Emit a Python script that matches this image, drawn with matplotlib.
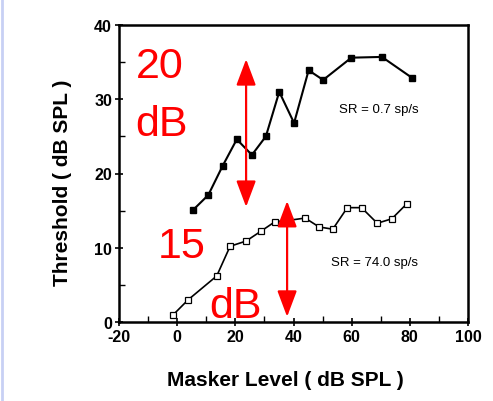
import matplotlib
matplotlib.use("Agg")
import matplotlib.pyplot as plt
from matplotlib.ticker import MultipleLocator
from matplotlib.lines import Line2D

plt.rcParams['font.family'] = ['Liberation Sans', 'DejaVu Sans']
plt.rcParams['axes.unicode_minus'] = False

# Data
low_sr_x = [5.5, 10.7, 15.6, 20.5, 25.7, 30.5, 35.1, 40.2, 45.2, 50.2, 59.9, 70.4, 80.7]
low_sr_y = [15.1, 17.1, 21.0, 24.6, 22.5, 25.0, 31.0, 26.8, 33.9, 32.6, 35.6, 35.7, 32.9]

high_sr_x = [-1.3, 3.8, 13.6, 18.2, 23.7, 28.7, 33.6, 38.6, 44.0, 48.8, 53.5, 58.5, 63.4, 68.8, 73.8, 78.9]
high_sr_y = [1.0, 3.0, 6.2, 10.2, 10.9, 12.2, 13.5, 13.7, 14.0, 12.8, 12.5, 15.4, 15.4, 13.3, 13.9, 15.9]

x_ticks = [-20, 0, 20, 40, 60, 80, 100]
y_ticks = [0, 10, 20, 30, 40]

label_low = "SR = 0.7 sp/s"
label_high = "SR = 74.0 sp/s"

# Red overlay annotations: (x, y_top, y_bottom)
arrow_upper = (23.7, 35.4, 15.5)
arrow_lower = (37.8, 16.3, 0.7)

fig = plt.figure(figsize=(4.93, 4.02), dpi=100)
ax = fig.add_axes([119 / 493, 1 - 323 / 402, (468 - 119) / 493, (323 - 26) / 402])

ax.plot(low_sr_x, low_sr_y, color='black', lw=1.5, marker='s', ms=4.5,
        mfc='black', mec='black', zorder=3)
ax.plot(high_sr_x, high_sr_y, color='black', lw=1.2, marker='s', ms=4.2,
        mfc='white', mec='black', mew=0.9, zorder=3)

ax.set_xlim(-20, 100)
ax.set_ylim(0, 40)
ax.set_xticks(x_ticks)
ax.set_yticks(y_ticks)
ax.xaxis.set_minor_locator(MultipleLocator(10))
ax.yaxis.set_minor_locator(MultipleLocator(5))
ax.tick_params(which='major', direction='inout', length=6, width=1.2,
               labelsize=11.5, pad=2)
ax.tick_params(which='minor', direction='in', length=4, width=1.0)
ax.tick_params(top=False, right=False, which='both')
for lab in ax.get_xticklabels() + ax.get_yticklabels():
    lab.set_fontweight('bold')
for s in ax.spines.values():
    s.set_linewidth(1.8)

ax.set_xlabel("Masker Level ( dB SPL )", fontsize=15, fontweight='bold')
ax.set_ylabel("Threshold ( dB SPL )", fontsize=15, fontweight='bold')
ax.xaxis.set_label_coords(0.478, -0.195)
ax.yaxis.set_label_coords(-0.163, 0.471)
ax.xaxis.label.set_va('center')
ax.yaxis.label.set_va('center')

ax.text(55.6, 28.7, label_low, fontsize=9.5, va='center', ha='left')
ax.text(52.9, 8.1, label_high, fontsize=9.5, va='center', ha='left')

red = '#ff0000'
for (xa, yt, yb) in (arrow_upper, arrow_lower):
    ax.annotate('', xy=(xa, yt), xytext=(xa, yb),
                arrowprops=dict(arrowstyle='<|-|>,head_length=1.6,head_width=0.6',
                                color=red, lw=1.6, mutation_scale=10,
                                shrinkA=0, shrinkB=0), zorder=5)

ax.text(-6.1, 34.5, "20", color=red, fontsize=31, ha='center', va='center', zorder=6)
ax.text(-5.4, 26.6, "dB", color=red, fontsize=31, ha='center', va='center', zorder=6)
ax.text(1.7, 10.3, "15", color=red, fontsize=31, ha='center', va='center', zorder=6)
ax.text(20.2, 2.2, "dB", color=red, fontsize=31, ha='center', va='center', zorder=6)

fig.add_artist(Line2D([1.5 / 493, 1.5 / 493], [0, 1], transform=fig.transFigure,
                      color='#c8d0f4', lw=2))

fig.savefig("out.png", dpi=100)
